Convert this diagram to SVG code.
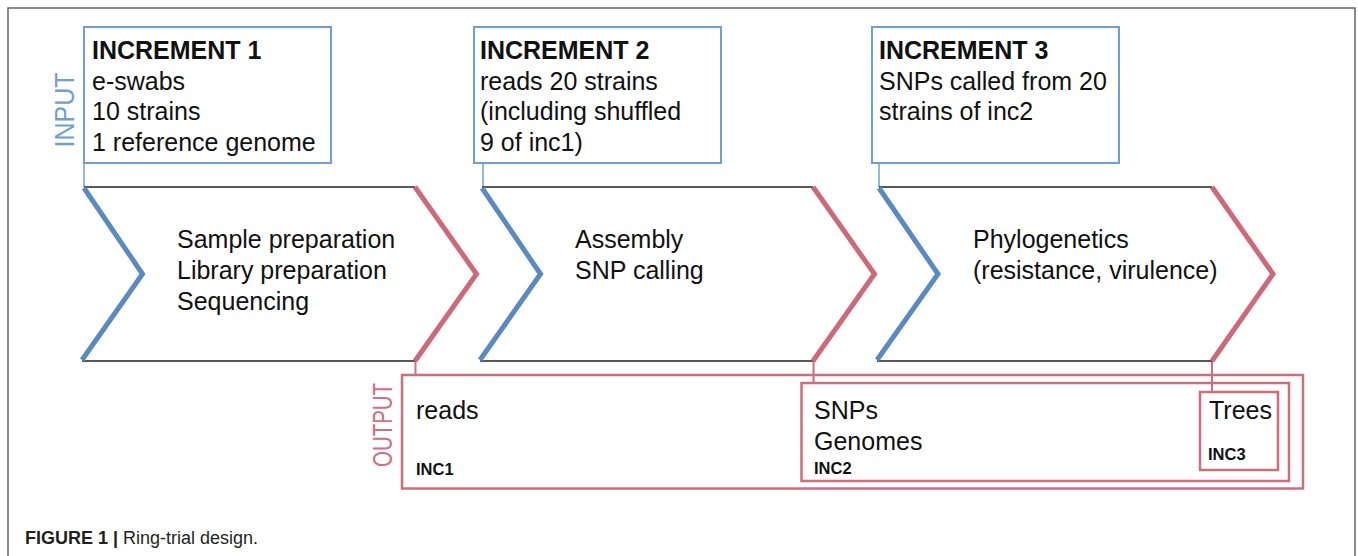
<svg xmlns="http://www.w3.org/2000/svg" width="1358" height="556" viewBox="0 0 1358 556">
<style>
text{font-family:"Liberation Sans",Arial,sans-serif;fill:#111}
.h{font-weight:bold;font-size:25px}
.t{font-size:25px}
.s{font-weight:bold;font-size:16.5px}
.ib{fill:none;stroke:#6e9fd6;stroke-width:2}
.ob{fill:none;stroke:#d06d7c;stroke-width:2.5}
.bl{fill:none;stroke:#5a8ac2;stroke-width:5;stroke-linejoin:miter}
.rd{fill:none;stroke:#cf6878;stroke-width:5;stroke-linejoin:miter}
.k{stroke:#222;stroke-width:1.5;fill:none}
.lb{stroke:#6e9fd6;stroke-width:1.5}
.lr{stroke:#d06d7c;stroke-width:2}
</style>
<rect width="1358" height="556" fill="#fff"/>
<rect x="8" y="8" width="1347" height="600" fill="none" stroke="#666" stroke-width="1.5"/>
<text transform="translate(74,110) rotate(-90)" text-anchor="middle" font-size="27" textLength="75" lengthAdjust="spacingAndGlyphs" style="fill:#6e9fd6">INPUT</text>
<text transform="translate(392,425) rotate(-90)" text-anchor="middle" font-size="27" textLength="84" lengthAdjust="spacingAndGlyphs" style="fill:#d46f7f">OUTPUT</text>
<g id="connectors">
<line class="lb" x1="84" y1="163" x2="84" y2="187"/>
<line class="lb" x1="483" y1="163" x2="483" y2="187"/>
<line class="lb" x1="879" y1="163" x2="879" y2="187"/>
<line class="lr" x1="415.5" y1="361" x2="415.5" y2="375"/>
<line class="lr" x1="813.5" y1="361" x2="813.5" y2="383"/>
<line class="lr" x1="1212" y1="361" x2="1212" y2="392"/>
</g>
<g id="input1">
<rect class="ib" x="84" y="27" width="247" height="136"/>
<text class="h" x="92" y="59">INCREMENT 1</text>
<text class="t" x="92" y="89.5">e-swabs</text>
<text class="t" x="92" y="120">10 strains</text>
<text class="t" x="92" y="150.5">1 reference genome</text>
</g>
<g id="input2">
<rect class="ib" x="474" y="27" width="247" height="136"/>
<text class="h" x="480" y="59">INCREMENT 2</text>
<text class="t" x="480" y="89.5">reads 20 strains</text>
<text class="t" x="480" y="120">(including shuffled</text>
<text class="t" x="480" y="150.5">9 of inc1)</text>
</g>
<g id="input3">
<rect class="ib" x="872" y="27" width="247" height="136"/>
<text class="h" x="879" y="59">INCREMENT 3</text>
<text class="t" x="879" y="89.5">SNPs called from 20</text>
<text class="t" x="879" y="120">strains of inc2</text>
</g>
<g id="step1">
<line class="k" x1="84" y1="187" x2="415" y2="187"/>
<line class="k" x1="82" y1="361" x2="415" y2="361"/>
<polyline class="bl" points="84,188 142.5,274 82,360"/>
<polyline class="rd" points="415,187 476.5,274 415,361"/>
<text class="t" x="177" y="248">Sample preparation</text>
<text class="t" x="177" y="279">Library preparation</text>
<text class="t" x="177" y="309.5">Sequencing</text>
</g>
<g id="step2">
<line class="k" x1="482" y1="187" x2="813" y2="187"/>
<line class="k" x1="480" y1="361" x2="813" y2="361"/>
<polyline class="bl" points="482,188 540.5,274 480,360"/>
<polyline class="rd" points="813,187 874.5,274 813,361"/>
<text class="t" x="575" y="248">Assembly</text>
<text class="t" x="575" y="279">SNP calling</text>
</g>
<g id="step3">
<line class="k" x1="879" y1="187" x2="1212" y2="187"/>
<line class="k" x1="877" y1="361" x2="1212" y2="361"/>
<polyline class="bl" points="879,188 938,274 877,360"/>
<polyline class="rd" points="1212,187 1273,274 1212,361"/>
<text class="t" x="973" y="248">Phylogenetics</text>
<text class="t" x="973" y="279">(resistance, virulence)</text>
</g>
<g id="output1">
<rect class="ob" x="402" y="375" width="901" height="113.5"/>
<text class="t" x="416" y="419">reads</text>
<text class="s" x="416" y="475">INC1</text>
</g>
<g id="output2">
<rect class="ob" x="801.5" y="383" width="487.5" height="98"/>
<text class="t" x="814" y="419">SNPs</text>
<text class="t" x="814" y="450">Genomes</text>
<text class="s" x="814" y="474">INC2</text>
</g>
<g id="output3">
<rect class="ob" x="1200" y="392" width="78" height="78"/>
<text class="t" x="1209" y="419">Trees</text>
<text class="s" x="1208" y="460">INC3</text>
</g>
<text x="25" y="544" font-size="18" style="fill:#231f20"><tspan font-weight="bold">FIGURE 1 | </tspan>Ring-trial design.</text>
</svg>
